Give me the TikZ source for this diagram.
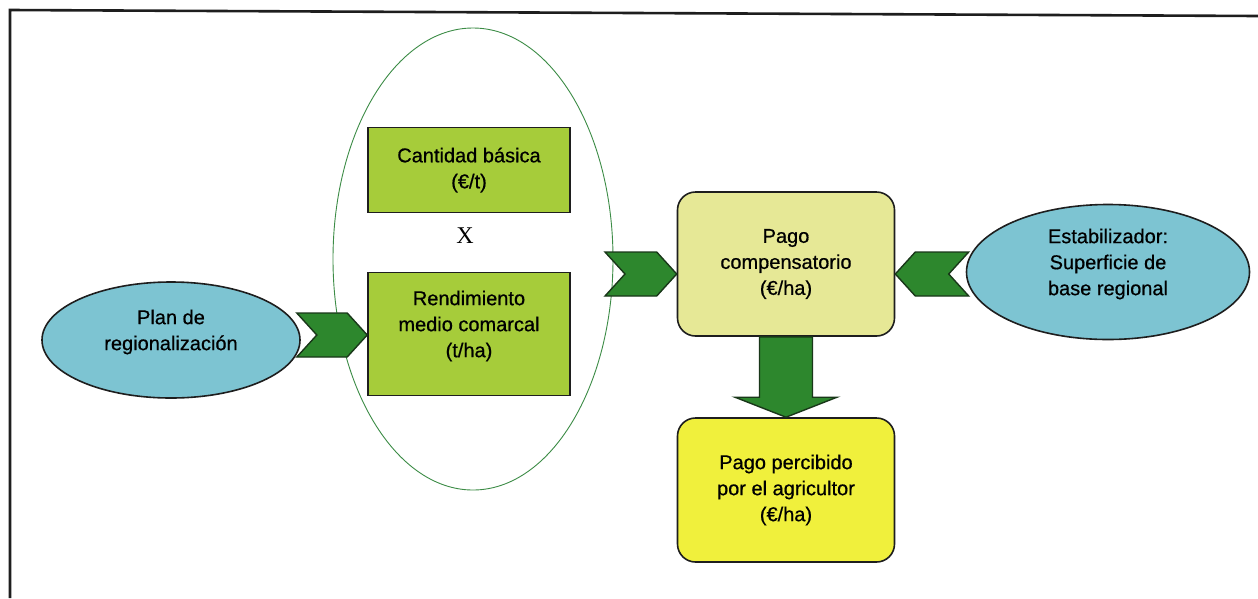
\documentclass[tikz,border=0pt]{standalone}
\usepackage{fontspec}
\setmainfont[FakeBold=0.6]{Liberation Sans}
\newfontfamily\timesx{Liberation Serif}
\usetikzlibrary{shapes.geometric}
\usetikzlibrary{calc}

\definecolor{azul}{RGB}{125,196,210}
\definecolor{borde}{RGB}{30,30,30}
\definecolor{verdeclaro}{RGB}{166,204,58}
\definecolor{amarillopalido}{RGB}{230,232,150}
\definecolor{amarillo}{RGB}{240,240,60}
\definecolor{verdeosc}{RGB}{45,135,45}
\definecolor{verdeborde}{RGB}{25,55,25}
\definecolor{verdelinea}{RGB}{60,140,70}

\tikzset{
 elipse/.style={ellipse,draw=borde,line width=1.6pt,fill=azul,inner sep=0pt,align=center},
 caja/.style={rectangle,draw=borde,line width=1.6pt,fill=verdeclaro,inner sep=0pt,align=center,minimum width=202pt},
 cajaredonda/.style={caja,rounded corners=18pt,minimum width=217pt,minimum height=144pt},
 flecha/.style={draw=verdeborde,line width=1.4pt,fill=verdeosc,line join=miter},
 arriba/.style={label={[align=center,yshift=8pt]center:#1}}
}

\newcommand{\chevron}[2]{%
 \path[flecha] let \p1=(#1), \p2=(#2), \n2={\x2-sign(\x2-\x1)*20}, \n3={\x1+sign(\x2-\x1)*20} in
 (\x1,\y1+22pt) -- ({\n2*1pt},\y1+22pt) -- (\x2,\y1) -- ({\n2*1pt},\y1-22pt)
 -- (\x1,\y1-22pt) -- ({\n3*1pt},\y1) -- cycle;}

\begin{document}
\begin{tikzpicture}[x=1pt,y=-1pt,font=\fontsize{20}{26}\selectfont]
 \useasboundingbox[fill=white] (0,0) rectangle (1258,598);
 \draw[line width=2.6pt,borde] (10,598) -- (10,10) -- (1258,16);

 \node[ellipse,draw=verdelinea,line width=0.9pt,fill=white,minimum width=280pt,minimum height=462pt] (zona) at (473,259) {};

 \node[elipse,minimum width=258pt,minimum height=116pt,arriba={Plan de\\regionalización}] (plan) at (171,340) {};
 \node[caja,minimum height=85pt] (cant) at (469,170) {Cantidad básica\\(€/t)};
 \node[font=\timesx\fontsize{24}{26}\selectfont] (por) at (465,236) {X};
 \node[caja,minimum height=123pt,arriba={Rendimiento\\medio comarcal\\(t/ha)}] (rend) at (469,334) {};
 \node[cajaredonda,fill=amarillopalido] (pago) at (786,264) {Pago\\compensatorio\\(€/ha)};
 \node[elipse,minimum width=283pt,minimum height=135pt,arriba={Estabilizador:\\Superficie de\\base regional}] (estab) at (1108,272) {};
 \node[cajaredonda,fill=amarillo] (perc) at (786,490) {Pago percibido\\por el agricultor\\(€/ha)};

 \coordinate (c2) at (605,274);
 \coordinate (c1) at ([xshift=-4pt,yshift=5pt]plan.east);
 \coordinate (c3) at ([xshift=3pt,yshift=-2pt]estab.west);
 \chevron{c1}{rend.west}
 \chevron{c2}{pago.west}
 \chevron{c3}{pago.east}

 \path[flecha] let \p1=(pago.south), \p2=(perc.north) in
 (\x1-26.5pt,\y1) -- (\x1-26.5pt,\y2+20pt) -- (\x1-51pt,\y2+20pt) -- (\x2,\y2)
 -- (\x1+51pt,\y2+20pt) -- (\x1+26.5pt,\y2+20pt) -- (\x1+26.5pt,\y1) -- cycle;
\end{tikzpicture}
\end{document}
